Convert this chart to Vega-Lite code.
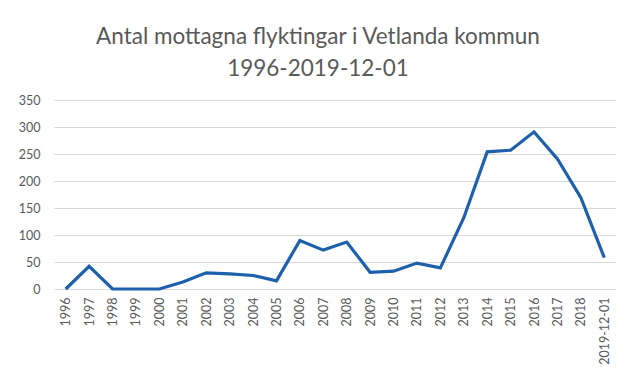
{
  "$schema": "https://vega.github.io/schema/vega-lite/v6.json",
  "width": 562,
  "height": 189,
  "autosize": {"type": "none"},
  "padding": {"left": 54, "top": 100, "right": 24, "bottom": 101},
  "background": "white",
  "title": {
    "text": ["Antal mottagna flyktingar i Vetlanda kommun", "1996-2019-12-01"],
    "font": "Lato",
    "fontSize": 22.5,
    "fontWeight": "normal",
    "color": "#595959",
    "anchor": "middle",
    "dx": -17,
    "offset": 14,
    "lineHeight": 32
  },
  "data": {
    "values": [
      {"year": "1996", "count": 0},
      {"year": "1997", "count": 42},
      {"year": "1998", "count": 0},
      {"year": "1999", "count": 0},
      {"year": "2000", "count": 0},
      {"year": "2001", "count": 13},
      {"year": "2002", "count": 30},
      {"year": "2003", "count": 28},
      {"year": "2004", "count": 25},
      {"year": "2005", "count": 15},
      {"year": "2006", "count": 90},
      {"year": "2007", "count": 72},
      {"year": "2008", "count": 87},
      {"year": "2009", "count": 31},
      {"year": "2010", "count": 33},
      {"year": "2011", "count": 48},
      {"year": "2012", "count": 39},
      {"year": "2013", "count": 132},
      {"year": "2014", "count": 254},
      {"year": "2015", "count": 257},
      {"year": "2016", "count": 291},
      {"year": "2017", "count": 241},
      {"year": "2018", "count": 169},
      {"year": "2019-12-01", "count": 58}
    ]
  },
  "mark": {"type": "line", "color": "#1F60AD", "strokeWidth": 3.2, "strokeJoin": "miter"},
  "encoding": {
    "x": {
      "field": "year",
      "type": "ordinal",
      "sort": null,
      "scale": {"type": "point", "padding": 0.5},
      "axis": {
        "title": null,
        "labelAngle": 270,
        "labelAlign": "right",
        "labelBaseline": "middle",
        "labelFont": "Lato",
        "labelFontSize": 12.5,
        "labelColor": "#595959",
        "labelPadding": 8,
        "ticks": false,
        "domain": false,
        "grid": false
      }
    },
    "y": {
      "field": "count",
      "type": "quantitative",
      "scale": {"domain": [0, 350], "nice": false},
      "axis": {
        "title": null,
        "values": [0, 50, 100, 150, 200, 250, 300, 350],
        "labelFont": "Lato",
        "labelFontSize": 12.5,
        "labelColor": "#595959",
        "labelPadding": 14,
        "ticks": false,
        "domain": false,
        "grid": true,
        "gridColor": "#d9d9d9",
        "gridWidth": 1
      }
    }
  },
  "config": {"view": {"stroke": null}}
}
